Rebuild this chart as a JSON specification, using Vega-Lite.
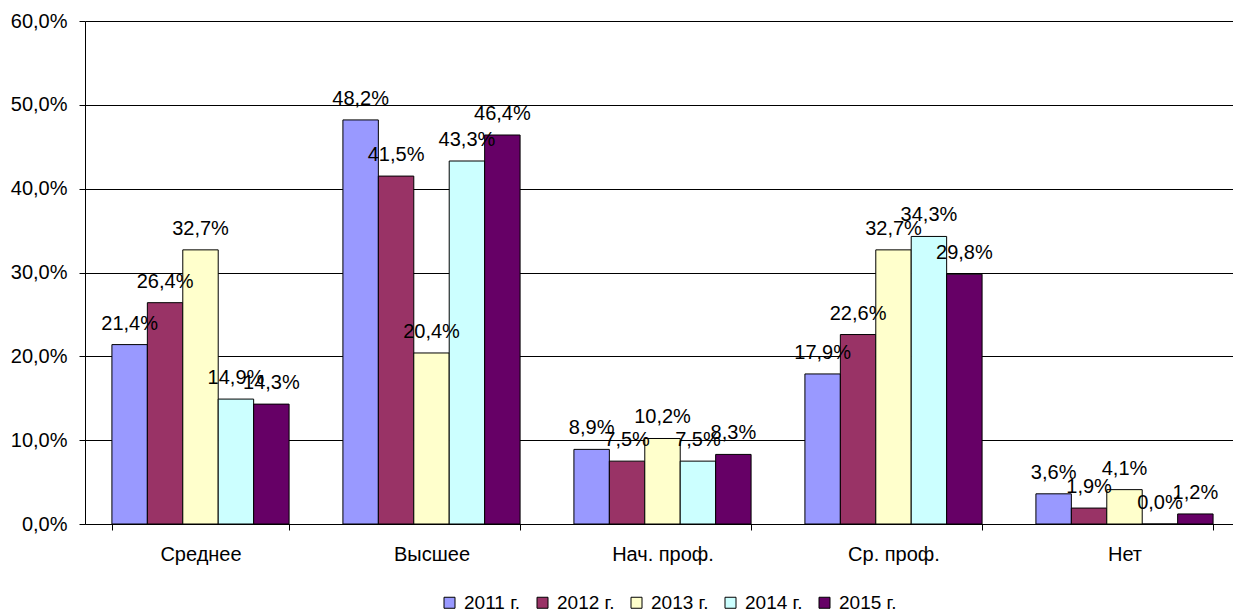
{
  "$schema": "https://vega.github.io/schema/vega-lite/v6.json",
  "width": 1148,
  "height": 503,
  "autosize": {"type": "none"},
  "padding": {"left": 85, "top": 21, "right": 0, "bottom": 89},
  "background": "white",
  "config": {
    "locale": {"number": {"decimal": ",", "thousands": " ", "grouping": [3], "currency": ["", ""]}},
    "font": "Liberation Sans",
    "view": {"stroke": null}
  },
  "data": {
    "values": [
      {"cat": "Среднее", "year": "2011 г.", "v": 0.214},
      {"cat": "Среднее", "year": "2012 г.", "v": 0.264},
      {"cat": "Среднее", "year": "2013 г.", "v": 0.327},
      {"cat": "Среднее", "year": "2014 г.", "v": 0.149},
      {"cat": "Среднее", "year": "2015 г.", "v": 0.143},
      {"cat": "Высшее", "year": "2011 г.", "v": 0.482},
      {"cat": "Высшее", "year": "2012 г.", "v": 0.415},
      {"cat": "Высшее", "year": "2013 г.", "v": 0.204},
      {"cat": "Высшее", "year": "2014 г.", "v": 0.433},
      {"cat": "Высшее", "year": "2015 г.", "v": 0.464},
      {"cat": "Нач. проф.", "year": "2011 г.", "v": 0.089},
      {"cat": "Нач. проф.", "year": "2012 г.", "v": 0.075},
      {"cat": "Нач. проф.", "year": "2013 г.", "v": 0.102},
      {"cat": "Нач. проф.", "year": "2014 г.", "v": 0.075},
      {"cat": "Нач. проф.", "year": "2015 г.", "v": 0.083},
      {"cat": "Ср. проф.", "year": "2011 г.", "v": 0.179},
      {"cat": "Ср. проф.", "year": "2012 г.", "v": 0.226},
      {"cat": "Ср. проф.", "year": "2013 г.", "v": 0.327},
      {"cat": "Ср. проф.", "year": "2014 г.", "v": 0.343},
      {"cat": "Ср. проф.", "year": "2015 г.", "v": 0.298},
      {"cat": "Нет", "year": "2011 г.", "v": 0.036},
      {"cat": "Нет", "year": "2012 г.", "v": 0.019},
      {"cat": "Нет", "year": "2013 г.", "v": 0.041},
      {"cat": "Нет", "year": "2014 г.", "v": 0.0},
      {"cat": "Нет", "year": "2015 г.", "v": 0.012}
    ]
  },
  "encoding": {
    "x": {
      "field": "cat", "type": "nominal",
      "sort": ["Среднее", "Высшее", "Нач. проф.", "Ср. проф.", "Нет"],
      "scale": {"range": [0, 1155], "paddingInner": 0.233, "paddingOuter": 0.1165},
      "axis": {
        "title": null, "labelAngle": 0, "tickBand": "extent",
        "domainColor": "black", "tickColor": "black", "tickSize": 6,
        "labelFontSize": 20, "labelColor": "black", "labelPadding": 14, "grid": false
      }
    },
    "xOffset": {"field": "year", "type": "nominal", "scale": {"paddingInner": 0, "paddingOuter": 0}},
    "y": {
      "field": "v", "type": "quantitative",
      "scale": {"domain": [0, 0.6], "nice": false},
      "axis": {
        "title": null, "format": ".1%", "values": [0, 0.1, 0.2, 0.3, 0.4, 0.5, 0.6],
        "domainColor": "black", "tickColor": "black", "tickSize": 6,
        "gridColor": "black", "gridOpacity": 1, "grid": true,
        "labelFontSize": 20, "labelColor": "black", "labelPadding": 12
      }
    }
  },
  "layer": [
    {
      "mark": {"type": "bar", "stroke": "black", "strokeWidth": 1},
      "encoding": {
        "color": {
          "field": "year", "type": "nominal",
          "scale": {
            "domain": ["2011 г.", "2012 г.", "2013 г.", "2014 г.", "2015 г."],
            "range": ["#9999FF", "#993366", "#FFFFCC", "#CCFFFF", "#660066"]
          },
          "legend": {
            "title": null, "orient": "none", "direction": "horizontal", "columns": 5,
            "legendX": 355, "legendY": 572,
            "symbolType": "square", "symbolSize": 121, "symbolStrokeColor": "black",
            "symbolStrokeWidth": 1, "symbolOpacity": 1,
            "labelFontSize": 19, "labelColor": "black", "labelOffset": 5, "columnPadding": 12
          }
        }
      }
    },
    {
      "mark": {"type": "text", "baseline": "alphabetic", "dy": -15, "fontSize": 20, "color": "black"},
      "encoding": {
        "text": {"field": "v", "type": "quantitative", "format": ".1%"}
      }
    }
  ]
}
